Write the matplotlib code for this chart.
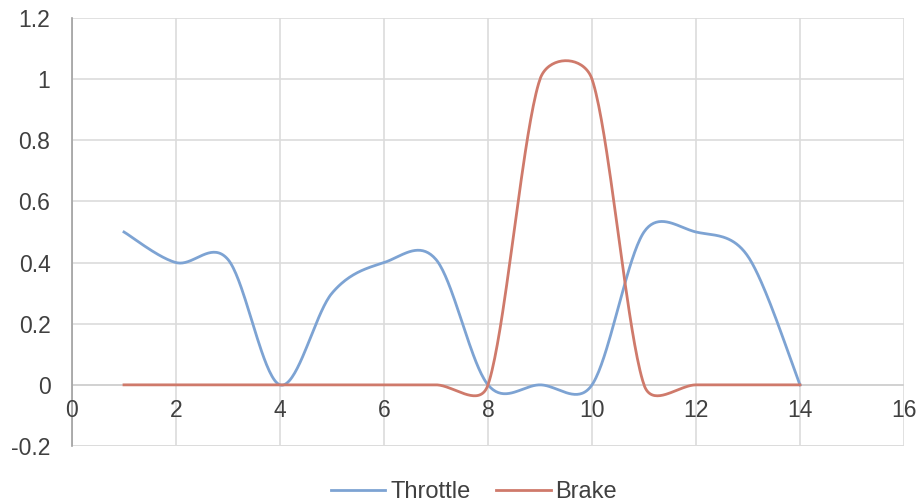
import numpy as np
import matplotlib
matplotlib.use("Agg")
import matplotlib.pyplot as plt
from matplotlib.lines import Line2D

# Pedal inputs sampled once per second
time_s = [1, 2, 3, 4, 5, 6, 7, 8, 9, 10, 11, 12, 13, 14]
throttle = [0.5, 0.4, 0.41, 0.0, 0.3, 0.4, 0.41, 0.0, 0.0, 0.0, 0.5, 0.5, 0.42, 0.0]
brake = [0, 0, 0, 0, 0, 0, 0, 0, 1, 1, 0, 0, 0, 0]

x_ticks = [0, 2, 4, 6, 8, 10, 12, 14, 16]
y_ticks = [-0.2, 0, 0.2, 0.4, 0.6, 0.8, 1, 1.2]
y_tick_labels = ["-0.2", "0", "0.2", "0.4", "0.6", "0.8", "1", "1.2"]

BLUE = "#7da3d3"
RED = "#cf7a6b"
GRID = "#dcdcdc"
TEXT = "#404040"
FONT = "Liberation Sans"
FS = 16.5


def smooth_path(ax, xs, ys, n=40):
    """Bezier smoothing done in display space, with control arms
    capped at half the segment length (spreadsheet-style smoothing)."""
    pts = ax.transData.transform(np.column_stack([xs, ys]))
    m = len(pts)
    out = []
    for i in range(m - 1):
        p0 = pts[i - 1] if i > 0 else pts[i]
        p1 = pts[i]
        p2 = pts[i + 1]
        p3 = pts[i + 2] if i + 2 < m else pts[i + 1]
        d12 = np.linalg.norm(p2 - p1)
        d02 = np.linalg.norm(p2 - p0)
        d13 = np.linalg.norm(p3 - p1)
        f = 1.0 / 6.0
        f1 = f if d02 / 6 < d12 / 2 or d02 == 0 else d12 / (2 * d02)
        f2 = f if d13 / 6 < d12 / 2 or d13 == 0 else d12 / (2 * d13)
        c1 = p1 + f1 * (p2 - p0)
        c2 = p2 - f2 * (p3 - p1)
        t = np.linspace(0, 1, n)[:, None]
        seg = ((1 - t) ** 3) * p1 + 3 * ((1 - t) ** 2) * t * c1 \
            + 3 * (1 - t) * t ** 2 * c2 + t ** 3 * p2
        out.append(seg if i == 0 else seg[1:])
    path = np.vstack(out)
    data = ax.transData.inverted().transform(path)
    return data[:, 0], data[:, 1]


fig = plt.figure(figsize=(9.2, 5.04), dpi=100)
ax = fig.add_axes([72 / 920, 1 - 446 / 504, (904 - 72) / 920, (446 - 18) / 504])
ax.set_xlim(0, 16)
ax.set_ylim(-0.2, 1.2)

ax.set_xticks(x_ticks)
ax.set_yticks(y_ticks)
ax.set_yticklabels(y_tick_labels)
ax.grid(True, color=GRID, linewidth=1.2)
ax.set_axisbelow(True)

for side in ["top", "right", "bottom"]:
    ax.spines[side].set_visible(False)
ax.spines["left"].set_color("#a0a0a0")
ax.spines["left"].set_linewidth(1.2)

# horizontal axis line at y = 0, labels set just below it
ax.axhline(0, color="#d0d0d0", linewidth=1.2, zorder=1)
ax.axhline(-0.2, color=GRID, linewidth=1.2, zorder=1)
ax.tick_params(axis="x", length=0, labelbottom=False)
ax.tick_params(axis="y", length=0, labelsize=FS, labelcolor=TEXT, pad=15.5)
for xv in x_ticks:
    ax.text(xv, -0.045, str(xv), ha="center", va="top", fontsize=FS,
            color=TEXT, family=FONT)
for lab in ax.get_yticklabels():
    lab.set_family(FONT)

fig.canvas.draw()
tx, ty = smooth_path(ax, time_s, throttle)
bx, by = smooth_path(ax, time_s, brake)
ax.plot(tx, ty, color=BLUE, linewidth=2.0, zorder=3)
ax.plot(bx, by, color=RED, linewidth=2.0, zorder=3)

handles = [Line2D([0], [0], color=BLUE, linewidth=2.0),
           Line2D([0], [0], color=RED, linewidth=2.0)]
fig.legend(handles, ["Throttle", "Brake"], loc="center",
           bbox_to_anchor=(474 / 920, 1 - 492 / 504), ncol=2, frameon=False,
           prop={"family": FONT, "size": 17},
           labelcolor=TEXT, handlelength=2.3, handletextpad=0.2,
           columnspacing=1.1)

fig.savefig("out.png", dpi=100, facecolor="white")
